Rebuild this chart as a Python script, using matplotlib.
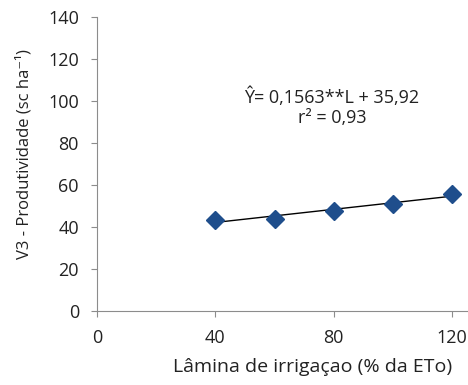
import numpy as np
import matplotlib.pyplot as plt

plt.rcParams['font.family'] = ['Open Sans', 'DejaVu Sans']

# Data
lamina = [40, 60, 80, 100, 120]
produtividade = [43.5, 43.8, 47.8, 51.0, 55.8]
slope, intercept = 0.1563, 35.92
x_ticks = [0, 40, 80, 120]
y_ticks = [0, 20, 40, 60, 80, 100, 120, 140]

fig = plt.figure(figsize=(4.68, 3.85), dpi=100)
ax = fig.add_axes([97 / 468, 1 - 311 / 385, (468 - 97) / 468, (311 - 17) / 385])

# fitted trend line
xl = np.array([lamina[0], lamina[-1]])
ax.plot(xl, slope * xl + intercept, color='black', lw=1.0, zorder=2)
ax.plot(lamina, produtividade, 'D', color='#1F4E8C', markersize=9.5,
        markeredgecolor='#1F4E8C', zorder=3, clip_on=False)

ax.set_xlim(0, 125.4)
ax.set_ylim(0, 140)
ax.set_xticks(x_ticks)
ax.set_yticks(y_ticks)
for s in ['top', 'right']:
    ax.spines[s].set_visible(False)
for s in ['left', 'bottom']:
    ax.spines[s].set_color('#8c8c8c')
    ax.spines[s].set_linewidth(0.8)
ax.tick_params(colors='#8c8c8c', labelcolor='#222222', labelsize=13,
               length=4, width=0.8, direction='out')
ax.tick_params(axis='x', pad=9)
ax.tick_params(axis='y', pad=9)

ax.set_ylabel('V3 - Produtividade (sc ha⁻¹)', fontsize=12, color='#222222')
ax.yaxis.set_label_coords(-0.175, 0.535)
ax.set_xlabel('Lâmina de irrigaçao (% da ETo)', fontsize=14, color='#222222')
ax.xaxis.set_label_coords((313 - 97) / 371, -0.16)

ax.text(79.4, 102, 'Ŷ= 0,1563**L + 35,92', fontsize=13, ha='center', va='center',
        color='#222222')
ax.text(79.4, 92, 'r² = 0,93', fontsize=13, ha='center', va='center',
        color='#222222')

fig.savefig('out.png', dpi=100)
